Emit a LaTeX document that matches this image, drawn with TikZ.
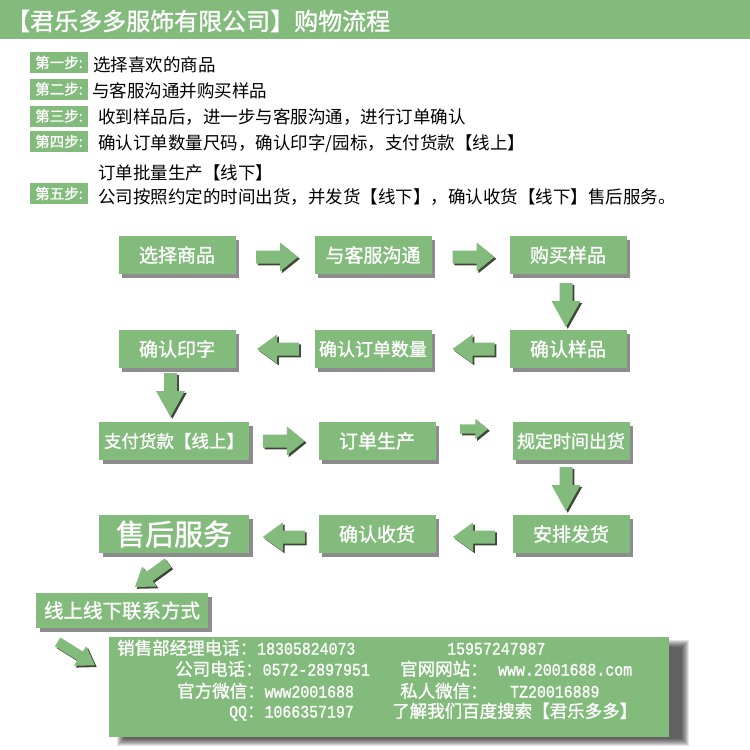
\documentclass[tikz,border=0pt]{standalone}
\usepackage{fontspec}
\setmainfont{Noto Sans CJK SC}
\newfontfamily\cjkb[FakeBold=1.2]{Noto Sans CJK SC}
\newfontfamily\nmono[FakeStretch=0.85,FakeBold=1]{Liberation Mono}
\usetikzlibrary{calc,shadows}
\definecolor{leaf}{RGB}{130,187,123}
\definecolor{arrshade}{RGB}{62,70,56}
\tikzset{
  flowbox/.style={fill=leaf, minimum width=117pt, minimum height=38pt, inner sep=0pt, text=white,
    font=\cjkb\fontsize{19}{19}\selectfont,
    drop shadow={shadow xshift=3.5pt, shadow yshift=-3.5pt, fill=black, opacity=.45}},
  widebox/.style={flowbox, minimum width=150pt},
  steptag/.style={fill=leaf, minimum width=58pt, minimum height=21pt, inner sep=0pt, text=white,
    font=\cjkb\fontsize{14.5}{14.5}\selectfont},
  steptext/.style={anchor=west, inner sep=0pt, font=\fontsize{17.5}{17.5}\selectfont},
  infotext/.style={anchor=west, inner sep=0pt, text=white, text height=12pt, text depth=3pt,
    font=\cjkb\fontsize{17.5}{17.5}\selectfont},
  pics/arrowbody/.style n args={3}{code={
    \fill[#3] ({-#1/2},-6.5) -- ({#1/2-#2},-6.5) -- ({#1/2-#2},-14.5) -- ({#1/2},0)
      -- ({#1/2-#2},14.5) -- ({#1/2-#2},6.5) -- ({-#1/2},6.5) -- cycle;}},
}
\newcommand\barrow[5]{%
  \pic[rotate=#1, scale=#5] at ($#2+(1.8,-1.8)$) {arrowbody={#3}{#4}{arrshade}};
  \pic[rotate=#1, scale=#5] at #2 {arrowbody={#3}{#4}{leaf}};
}
\begin{document}
\begin{tikzpicture}[x=1pt,y=1pt]
\useasboundingbox (0,0) rectangle (750,-750);
\fill[white] (0,0) rectangle (750,-750);
% header
\node[fill=leaf, minimum width=750pt, minimum height=39pt, inner sep=0pt, anchor=north west] (header) at (0,0) {};
\node[anchor=west, inner sep=0pt, text=white, font=\cjkb\fontsize{24}{24}\selectfont] (title) at (6,-21) {【君乐多多服饰有限公司】购物流程};
% steps
\node[steptag] (s1) at (59,-62.5) {第一步:};
\node[steptag] (s2) at (59,-89) {第二步:};
\node[steptag] (s3) at (59,-116) {第三步:};
\node[steptag] (s4) at (59,-141.5) {第四步:};
\node[steptag] (s5) at (59,-193.5) {第五步:};
\node[steptext] (t1) at (93,-64.5) {选择喜欢的商品};
\node[steptext] (t2) at (92,-90.5) {与客服沟通并购买样品};
\node[steptext] (t3) at (98,-117.5) {收到样品后，进一步与客服沟通，进行订单确认};
\node[steptext] (t4) at (98,-143.5) {确认订单数量尺码，确认印字/园标，支付货款【线上】};
\node[steptext] (t4b) at (98,-172.5) {订单批量生产【线下】};
\node[steptext] (t5) at (98,-197) {公司按照约定的时间出货，并发货【线下】，确认收货【线下】售后服务。};
% flow boxes
\node[flowbox] (b1) at (177,-255) {选择商品};
\node[flowbox] (b2) at (373,-255) {与客服沟通};
\node[flowbox] (b3) at (568,-255) {购买样品};
\node[flowbox] (b4) at (568,-349) {确认样品};
\node[flowbox, font=\cjkb\fontsize{18}{18}\selectfont] (b5) at (373,-349) {确认订单数量};
\node[flowbox] (b6) at (177,-349) {确认印字};
\node[widebox, font=\cjkb\fontsize{17.5}{17.5}\selectfont] (b7) at (174,-441) {支付货款【线上】};
\node[flowbox] (b8) at (377,-441) {订单生产};
\node[flowbox, font=\cjkb\fontsize{18}{18}\selectfont] (b9) at (571,-441) {规定时间出货};
\node[flowbox] (b10) at (571,-534) {安排发货};
\node[flowbox] (b11) at (377,-534) {确认收货};
\node[widebox, font=\cjkb\fontsize{29}{29}\selectfont] (b12) at (174,-534) {售后服务};
\node[flowbox, minimum width=172pt, minimum height=35pt, font=\cjkb\fontsize{19.5}{19.5}\selectfont] (c1) at (122,-610.5) {线上线下联系方式};
% info box with soft shadow
\coordinate (infoc) at (389,-687);
\foreach \k in {0,...,7}{
  \fill[black,opacity=0.11] ($(infoc)+(-272+\k,-59+\k)$) rectangle ($(infoc)+(300-\k,47-\k)$);
}
\node[fill=leaf, minimum width=560pt, minimum height=100pt, inner sep=0pt] (info) at (infoc) {};
\node[infotext] (i1a) at (117,-650) {销售部经理电话：{\nmono 18305824073}};
\node[infotext] (i1b) at (447,-650) {\nmono 15957247987};
\node[infotext] (i2a) at (175,-671) {公司电话：{\nmono 0572-2897951}};
\node[infotext] (i2b) at (400,-671) {官网网站：};
\node[infotext] (i2c) at (498,-671) {\nmono www.2001688.com};
\node[infotext] (i3a) at (177,-693) {官方微信：{\nmono www2001688}};
\node[infotext] (i3b) at (400,-693) {私人微信：};
\node[infotext] (i3c) at (510,-693) {\nmono TZ20016889};
\node[infotext] (i4a) at (229,-713) {{\nmono QQ}：{\nmono 1066357197}};
\node[infotext] (i4b) at (392,-713) {了解我们百度搜索【君乐多多】};
% arrows
\coordinate (a1) at ($(b1.east)!0.5!(b2.west)+(2,-2)$);
\coordinate (a2) at ($(b2.east)!0.5!(b3.west)+(3,-2)$);
\coordinate (a3) at ($(b4.west)!0.5!(b5.east)+(3,0)$);
\coordinate (a4) at ($(b5.west)!0.5!(b6.east)+(3,0)$);
\coordinate (a5) at ($(b3.south)!0.5!(b4.north)+(-2,-3)$);
\coordinate (a6) at ($(b6.south)!0.5!(b7.north)+(-5,0)$);
\coordinate (a7) at ($(b7.east)!0.5!(b8.west)$);
\coordinate (a8) at ($(b8.east)!0.5!(b9.west)+(0,12)$);
\coordinate (a9) at ($(b9.south)!0.5!(b10.north)+(-5,-1.5)$);
\coordinate (a10) at ($(b10.west)!0.5!(b11.east)+(0,-3)$);
\coordinate (a11) at ($(b11.west)!0.5!(b12.east)+(0,-3)$);
\coordinate (d1) at ($(b12.south)!0.5!(c1.north)+(3.5,-2)$);
\coordinate (d2) at ($(c1.south west)!0.5!(info.west)+(4,4)$);
\barrow{0}{(a1)}{42}{18}{1}
\barrow{0}{(a2)}{42}{18}{1}
\barrow{180}{(a3)}{42}{20}{1}
\barrow{180}{(a4)}{42}{20}{1}
\barrow{-90}{(a5)}{44}{26}{1}
\barrow{-90}{(a6)}{44}{26}{1}
\barrow{0}{(a7)}{42}{18}{1}
\barrow{0}{(a8)}{40}{18}{0.7}
\barrow{-90}{(a9)}{44}{26}{1}
\barrow{180}{(a10)}{42}{20}{1}
\barrow{180}{(a11)}{42}{20}{1}
\barrow{-144}{(d1)}{48}{21}{0.85}
\barrow{-32}{(d2)}{55}{22}{0.8}
\end{tikzpicture}
\end{document}
